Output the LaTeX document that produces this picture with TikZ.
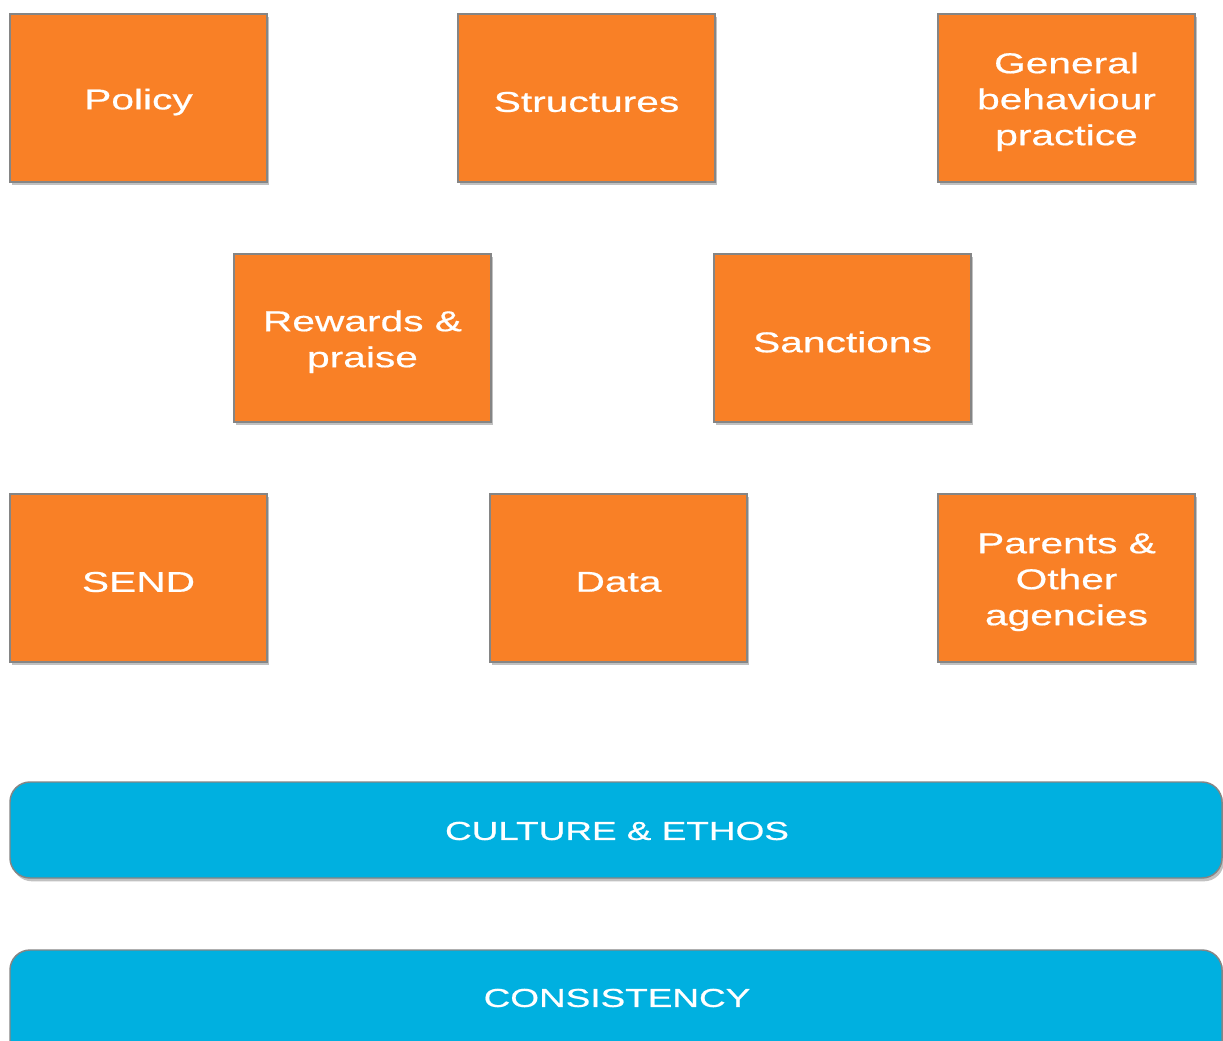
\documentclass[tikz,border=0pt]{standalone}
\usepackage{fontspec}
\setmainfont{Liberation Sans}[FakeStretch=1.42,FakeBold=0.6]
\usetikzlibrary{shadows}
\definecolor{boxorange}{HTML}{F98026}
\definecolor{barblue}{HTML}{00B0E0}
\definecolor{edgegrey}{HTML}{858585}
\newcommand{\lowered}[1]{\raisebox{-3pt}[\height][\depth]{#1}}
\begin{document}
\begin{tikzpicture}[x=0.75pt,y=-0.75pt,
  orangebox/.style={draw=edgegrey,line width=1.1pt,fill=boxorange,
    minimum width=192.75pt,minimum height=126pt,inner sep=0pt,
    text=white,align=center,font=\fontsize{21.5}{27}\selectfont,
    drop shadow={shadow xshift=1.5pt,shadow yshift=-2.5pt,opacity=0.4,fill=black!60}},
  bluebar/.style={draw=edgegrey,line width=1.1pt,fill=barblue,rounded corners=15pt,
    drop shadow={shadow xshift=1.5pt,shadow yshift=-2.5pt,opacity=0.4,fill=black!60}},
  bartext/.style={text=white,font=\fontsize{19.5}{24}\selectfont}]
\useasboundingbox (0,0) rectangle (1223,1041);
\clip (0,0) rectangle (1223,1041);
\fill[white] (0,0) rectangle (1223,1041);
\node[orangebox] (policy) at (138.5,98) {\lowered{Policy}};
\node[orangebox] (structures) at (586.5,98) {\lowered{Structures}};
\node[orangebox] (general) at (1066.5,98) {\lowered{\begin{tabular}{@{}c@{}}General\\behaviour\\practice\end{tabular}}};
\node[orangebox] (rewards) at (362.5,338) {\lowered{\begin{tabular}{@{}c@{}}Rewards \&\\praise\end{tabular}}};
\node[orangebox] (sanctions) at (842.5,338) {\lowered{Sanctions}};
\node[orangebox] (send) at (138.5,578) {\lowered{SEND}};
\node[orangebox] (data) at (618.5,578) {\lowered{Data}};
\node[orangebox] (parents) at (1066.5,578) {\lowered{\begin{tabular}{@{}c@{}}Parents \&\\Other\\agencies\end{tabular}}};
\draw[bluebar] (10,782) rectangle (1222,878);
\node[bartext] (culture) at (617,831) {CULTURE \& ETHOS};
\draw[bluebar] (10,950) rectangle (1222,1070);
\node[bartext] (consistency) at (617,998) {CONSISTENCY};
\end{tikzpicture}
\end{document}
